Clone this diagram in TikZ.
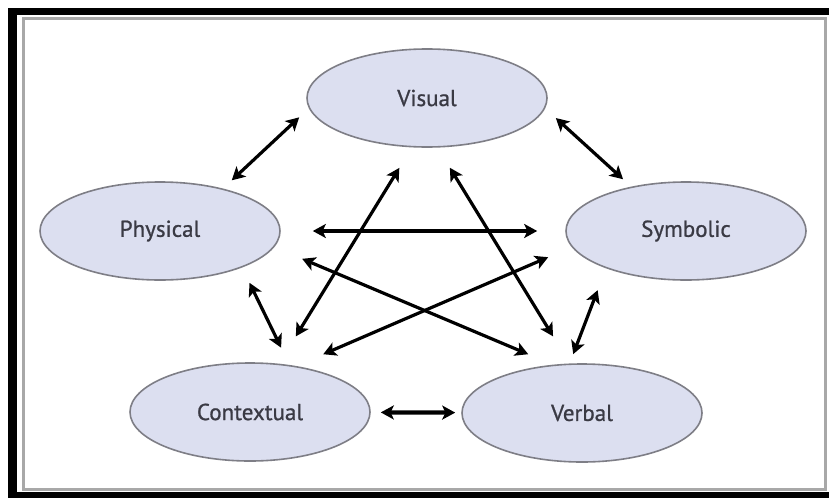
\documentclass[tikz,border=0pt]{standalone}
\usepackage{fontspec}
\setmainfont{PT Sans}
\newfontfamily\modefont[FakeBold=0.9]{PT Sans}
\usepackage{xcolor}
\usepackage{tikz}
\usetikzlibrary{shapes.geometric, arrows.meta, positioning, calc}
\definecolor{lavendermist}{HTML}{DCDFF0}
\definecolor{rimgrey}{HTML}{7E7E86}
\definecolor{inkgrey}{HTML}{3A3A44}
\definecolor{framegrey}{HTML}{A8A8A8}

\begin{document}
\begin{tikzpicture}[x=0.5pt, y=-0.5pt,
    modality/.style={ellipse, draw=rimgrey, line width=0.8pt, fill=lavendermist,
      minimum width=120pt, minimum height=49pt, inner sep=0pt,
      text=inkgrey, font=\modefont\fontsize{11.5}{13}\selectfont},
    biarrow/.style={{Stealth[length=6.5pt,width=7pt,inset=1.6pt]}-{Stealth[length=6.5pt,width=7pt,inset=1.6pt]},
      line width=1.6pt, black}]
    \useasboundingbox (0,0) rectangle (829,498);
    % frame
    \fill[black] (8,8) rectangle (829,498);
    \fill[white] (17,15) rectangle (829,492);
    \draw[framegrey, line width=1.2pt] (23.5,18.5) rectangle (825.5,489.5);

    % the five modes
    \node[modality] (visual) at (427,98) {Visual};
    \node[modality] (physical) at (160,231) {Physical};
    \node[modality] (symbolic) at (686,231) {Symbolic};
    \node[modality] (contextual) at (250,412) {Contextual};
    \node[modality] (verbal) at (582,413) {Verbal};

    % outer ring
    \draw[biarrow, shorten <=6.6pt, shorten >=6pt] (visual.185) -- (physical.34);
    \draw[biarrow, shorten <=7.2pt, shorten >=5.5pt] (visual.355) -- (symbolic.141.5);
    \draw[biarrow, shorten <=8.5pt, shorten >=9.6pt] (physical.336.9) -- (contextual.50.8);
    \draw[biarrow, shorten <=11.7pt, shorten >=5pt] (symbolic.205.9) -- (verbal.104.7);
    \draw[biarrow, line width=2.1pt, shorten <=5pt, shorten >=3pt] (contextual) -- (verbal);

    % inner star
    \draw[biarrow, shorten <=16pt, shorten >=14pt] (physical) -- (symbolic);
    \draw[biarrow, shorten <=15.1pt, shorten >=13.4pt] (physical.352.5) -- (verbal.121.8);
    \draw[biarrow, shorten <=12.8pt, shorten >=14.8pt] (symbolic.188.6) -- (contextual.45.4);
    \draw[biarrow, shorten <=12pt, shorten >=16pt] (visual.253.5) -- (contextual.59.5);
    \draw[biarrow, shorten <=11.8pt, shorten >=15.9pt] (visual.282.5) -- (verbal.104.4);
\end{tikzpicture}
\end{document}
